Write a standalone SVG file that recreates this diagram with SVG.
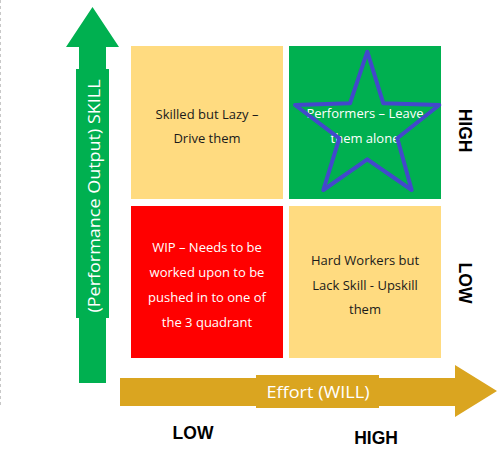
<svg xmlns="http://www.w3.org/2000/svg" width="497" height="474" viewBox="0 0 497 474">
<style>
.q{font-family:"Open Sans","Noto Sans","Liberation Sans",sans-serif;font-size:13px;text-anchor:middle}
.w{fill:#FFFFFF}
.k{fill:#1A1A1A}
.lab{font-family:"Liberation Sans","DejaVu Sans",sans-serif;font-weight:bold;font-size:17.5px;fill:#000;text-anchor:middle}
.ax{font-family:"Open Sans","Noto Sans","Liberation Sans",sans-serif;font-size:17px;fill:#FFFFFF;text-anchor:middle}
</style>
<rect width="497" height="474" fill="#FFFFFF"/>
<line x1="0.5" y1="0" x2="0.5" y2="408" stroke="#C8C8C8" stroke-width="1" stroke-dasharray="3,3"/>
<g id="connectors">
  <g id="skill-axis">
    <polygon points="92.5,7 119,47 106,47 106,383 79,383 79,47 66,47" fill="#00B050"/>
    <rect x="76" y="69" width="33" height="249" fill="#00B050"/>
    <text class="ax" transform="translate(99.5,196) rotate(-90)" textLength="233" lengthAdjust="spacingAndGlyphs">(Performance Output) SKILL</text>
  </g>
  <g id="will-axis">
    <polygon points="120,378 455,378 455,365 497,391 455,417 455,406 120,406" fill="#DAA520"/>
    <rect x="256" y="375" width="123" height="33" fill="#DAA520"/>
    <text class="ax" x="318" y="398" textLength="103" lengthAdjust="spacingAndGlyphs">Effort (WILL)</text>
  </g>
</g>
<g id="q-skilled-lazy">
  <rect x="131" y="46" width="152" height="153" fill="#FFDB80"/>
  <text class="q k" x="207" y="119">Skilled  but Lazy –</text>
  <text class="q k" x="207" y="143">Drive them</text>
</g>
<g id="q-performers">
  <rect x="289" y="46" width="152" height="153" fill="#00B050"/>
  <text class="q w" x="365" y="118">Performers – Leave</text>
  <text class="q w" x="365" y="143">them alone</text>
  <polygon points="367.3,51.7 383.3,103.3 439.3,105 397.3,138.3 411.7,190 367.3,159.3 323.3,190 339.3,138.3 295,105 350,103.3" fill="none" stroke="#4348CC" stroke-width="4" stroke-linejoin="round"/>
</g>
<g id="q-wip">
  <rect x="131" y="206" width="152" height="152" fill="#FF0000"/>
  <text class="q w" x="207" y="252">WIP – Needs to be</text>
  <text class="q w" x="207" y="277">worked upon to be</text>
  <text class="q w" x="207" y="302">pushed in to one of</text>
  <text class="q w" x="207" y="327">the 3 quadrant</text>
</g>
<g id="q-hard-workers">
  <rect x="289" y="206" width="152" height="152" fill="#FFDB80"/>
  <text class="q k" x="365" y="265">Hard Workers but</text>
  <text class="q k" x="365" y="290">Lack Skill  - Upskill</text>
  <text class="q k" x="365" y="314">them</text>
</g>
<g id="labels">
  <text class="lab" x="193" y="439">LOW</text>
  <text class="lab" x="376" y="444">HIGH</text>
  <text class="lab" transform="translate(458.5,130.5) rotate(90)">HIGH</text>
  <text class="lab" transform="translate(458.5,283) rotate(90)">LOW</text>
</g>
</svg>
